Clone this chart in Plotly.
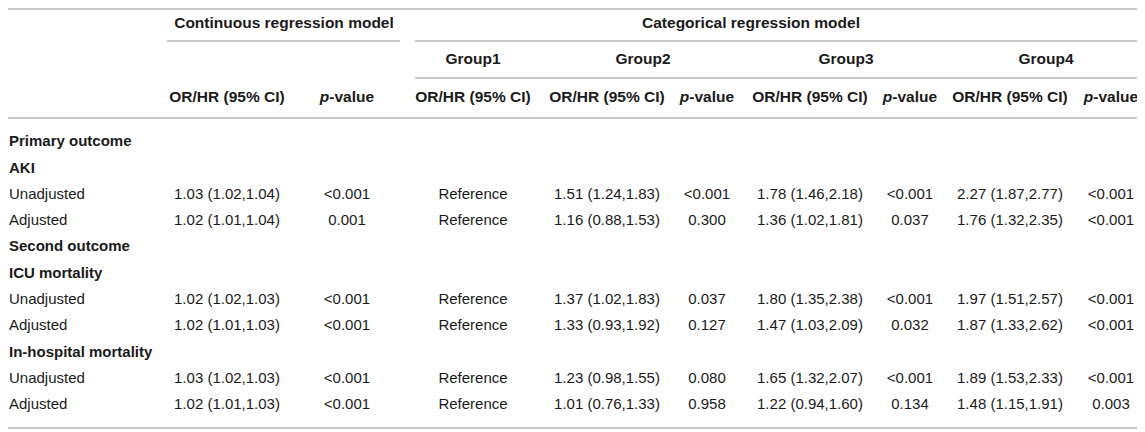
import plotly.graph_objects as go

# table content
row_labels = ["Primary outcome", "AKI", "Unadjusted", "Adjusted",
              "Second outcome", "ICU mortality", "Unadjusted", "Adjusted",
              "In-hospital mortality", "Unadjusted", "Adjusted"]
bold_rows = [0, 1, 4, 5, 8]

cont_or = ["", "", "1.03 (1.02,1.04)", "1.02 (1.01,1.04)", "", "", "1.02 (1.02,1.03)",
           "1.02 (1.01,1.03)", "", "1.03 (1.02,1.03)", "1.02 (1.01,1.03)"]
cont_p = ["", "", "<0.001", "0.001", "", "", "<0.001", "<0.001", "", "<0.001", "<0.001"]
g1_or = ["", "", "Reference", "Reference", "", "", "Reference", "Reference", "",
         "Reference", "Reference"]
g2_or = ["", "", "1.51 (1.24,1.83)", "1.16 (0.88,1.53)", "", "", "1.37 (1.02,1.83)",
         "1.33 (0.93,1.92)", "", "1.23 (0.98,1.55)", "1.01 (0.76,1.33)"]
g2_p = ["", "", "<0.001", "0.300", "", "", "0.037", "0.127", "", "0.080", "0.958"]
g3_or = ["", "", "1.78 (1.46,2.18)", "1.36 (1.02,1.81)", "", "", "1.80 (1.35,2.38)",
         "1.47 (1.03,2.09)", "", "1.65 (1.32,2.07)", "1.22 (0.94,1.60)"]
g3_p = ["", "", "<0.001", "0.037", "", "", "<0.001", "0.032", "", "<0.001", "0.134"]
g4_or = ["", "", "2.27 (1.87,2.77)", "1.76 (1.32,2.35)", "", "", "1.97 (1.51,2.57)",
         "1.87 (1.33,2.62)", "", "1.89 (1.53,2.33)", "1.48 (1.15,1.91)"]
g4_p = ["", "", "<0.001", "<0.001", "", "", "<0.001", "<0.001", "", "<0.001", "0.003"]

top_headers = ["Continuous regression model", "Categorical regression model"]
group_headers = ["Group1", "Group2", "Group3", "Group4"]
sub_headers = ["OR/HR (95% CI)", "<i>p</i>-value", "OR/HR (95% CI)", "OR/HR (95% CI)",
               "<i>p</i>-value", "OR/HR (95% CI)", "<i>p</i>-value", "OR/HR (95% CI)",
               "<i>p</i>-value"]

# layout (page pixel space; the page body adds an 8px offset)
W, H = 1145, 432
OFF = 8
col_x = [227, 347, 473, 607, 707, 810, 910, 1010, 1111]
top_x = [284, 751]
group_x = [473, 643, 846, 1046]
label_x = 9
y_top, y_group, y_sub = 24, 60, 98
row0, row_step = 142.5, 26.3
row_y = [row0 + i * row_step for i in range(len(row_labels))]

FONT = "Liberation Sans, Arial, Helvetica, sans-serif"
TXT = "#1a1a1a"
LINE = "#b4b4b4"
FS = 15
FS_B = 15.5

fig = go.Figure()

# row labels (left aligned)
labels = [f"<b>{t}</b>" if i in bold_rows else t for i, t in enumerate(row_labels)]
fig.add_trace(go.Scatter(x=[label_x] * len(labels), y=row_y, text=labels, mode="text",
                         textposition="middle right", cliponaxis=False,
                         textfont=dict(family=FONT, size=FS, color=TXT)))

# body columns
columns = [cont_or, cont_p, g1_or, g2_or, g2_p, g3_or, g3_p, g4_or, g4_p]
for cx, col in zip(col_x, columns):
    fig.add_trace(go.Scatter(x=[cx] * len(col), y=row_y,
                             text=[c.replace("<", "&lt;") for c in col], mode="text",
                             textposition="middle center", cliponaxis=False,
                             textfont=dict(family=FONT, size=FS, color=TXT)))

# headers
fig.add_trace(go.Scatter(x=top_x, y=[y_top] * 2, text=[f"<b>{t}</b>" for t in top_headers],
                         mode="text", textposition="middle center", cliponaxis=False,
                         textfont=dict(family=FONT, size=FS_B, color=TXT)))
fig.add_trace(go.Scatter(x=group_x, y=[y_group] * 4, text=[f"<b>{t}</b>" for t in group_headers],
                         mode="text", textposition="middle center", cliponaxis=False,
                         textfont=dict(family=FONT, size=FS_B, color=TXT)))
fig.add_trace(go.Scatter(x=col_x, y=[y_sub] * len(col_x), text=[f"<b>{t}</b>" for t in sub_headers],
                         mode="text", textposition="middle center", cliponaxis=False,
                         textfont=dict(family=FONT, size=FS_B, color=TXT)))

# rules
rules = [(OFF, W, 9), (167, 400, 41), (415, W, 41), (415, W, 78), (OFF, W, 118), (OFF, W, 428)]
for x0, x1, y in rules:
    fig.add_shape(type="line", x0=x0, x1=x1, y0=y, y1=y, xref="x", yref="y",
                  line=dict(color=LINE, width=1.6))

fig.update_layout(width=W - OFF, height=H - OFF, margin=dict(l=0, r=0, t=0, b=0),
                  paper_bgcolor="white", plot_bgcolor="white", showlegend=False,
                  xaxis=dict(range=[OFF, W], visible=False, fixedrange=True),
                  yaxis=dict(range=[H, OFF], visible=False, fixedrange=True))

fig.write_html("out.html", config={"displayModeBar": False})
